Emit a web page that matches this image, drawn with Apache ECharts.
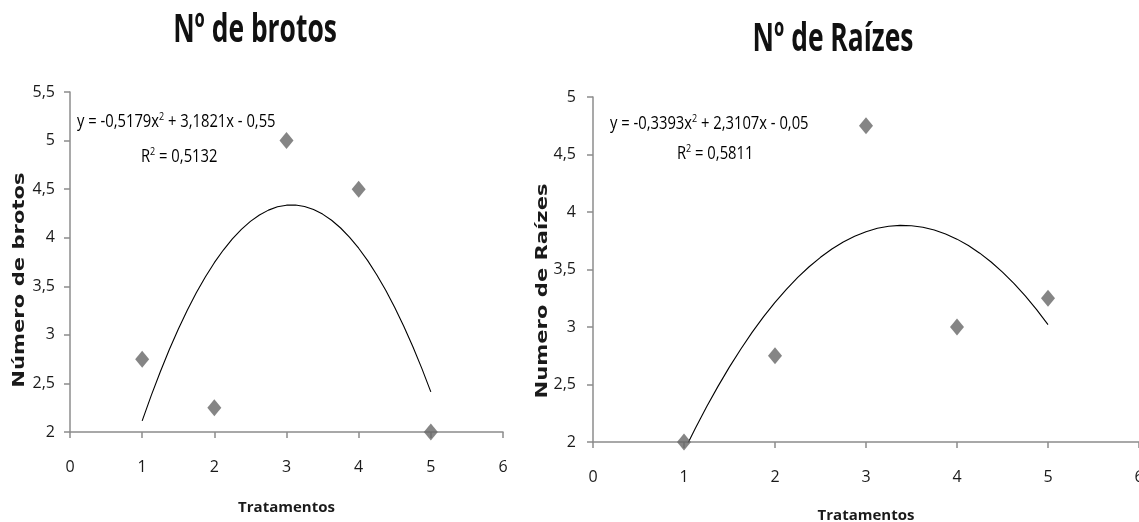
<!DOCTYPE html>
<html>
<head>
<meta charset="utf-8">
<script src="https://cdn.jsdelivr.net/npm/echarts@6/dist/echarts.min.js"></script>
<style>
html,body{margin:0;padding:0;background:#fff;}
#chart{width:1139px;height:522px;}
</style>
</head>
<body>
<div id="chart"></div>
<script>
// ---- data ----
var xTicks = [0, 1, 2, 3, 4, 5, 6];
var brotosX = [1, 2, 3, 4, 5];
var brotosY = [2.75, 2.25, 5, 4.5, 2];
var raizesX = [1, 2, 3, 4, 5];
var raizesY = [2, 2.75, 4.75, 3, 3.25];
// trendline points
var trendX = [1, 1.125, 1.25, 1.375, 1.5, 1.625, 1.75, 1.875, 2, 2.125, 2.25, 2.375, 2.5, 2.625, 2.75, 2.875, 3,
  3.125, 3.25, 3.375, 3.5, 3.625, 3.75, 3.875, 4, 4.125, 4.25, 4.375, 4.5, 4.625, 4.75, 4.875, 5];
var brotosTrendY = [2.114, 2.374, 2.618, 2.846, 3.058, 3.253, 3.433, 3.596, 3.743, 3.873, 3.988, 4.086, 4.168, 4.234, 4.284, 4.318, 4.335,
  4.336, 4.322, 4.290, 4.243, 4.180, 4.100, 4.004, 3.892, 3.764, 3.619, 3.459, 3.282, 3.089, 2.880, 2.655, 2.413];
var raizesTrendY = [1.921, 2.120, 2.308, 2.486, 2.653, 2.809, 2.955, 3.090, 3.214, 3.328, 3.431, 3.524, 3.606, 3.678, 3.739, 3.789, 3.828,
  3.858, 3.876, 3.884, 3.881, 3.868, 3.844, 3.809, 3.764, 3.708, 3.642, 3.565, 3.477, 3.379, 3.270, 3.151, 3.021];
var titles = ['Nº de brotos', 'Nº de Raízes'];
var yNames = ['Número de brotos', 'Numero de Raízes'];
var xName = 'Tratamentos';
var eqBrotos = ['y = -0,5179x', ' + 3,1821x - 0,55'];
var r2Brotos = '0,5132';
var eqRaizes = ['y = -0,3393x', ' + 2,3107x - 0,05'];
var r2Raizes = '0,5811';

function pairs(xs, ys) { return xs.map(function (x, i) { return [x, ys[i]]; }); }

var sans = '"Open Sans", "Noto Sans", sans-serif';
var axisColor = '#8c8c8c';
var labelColor = '#1a1a1a';

function xAxisCfg(gi, gap) {
  return {
    type: 'value', gridIndex: gi, min: 0, max: 6, interval: 1,
    name: xName, nameLocation: 'middle', nameGap: gap,
    nameTextStyle: { fontFamily: sans, fontWeight: 'bold', fontSize: 15, color: labelColor },
    axisLine: { show: true, lineStyle: { color: axisColor, width: 1.5 } },
    axisTick: { show: true, length: 6, lineStyle: { color: axisColor, width: 1.5 } },
    axisLabel: { margin: 27, fontFamily: sans, fontSize: 16, color: labelColor },
    splitLine: { show: false }
  };
}
function yAxisCfg(gi, min, max, margin) {
  return {
    type: 'value', gridIndex: gi, min: min, max: max, interval: 0.5,
    axisLine: { show: true, lineStyle: { color: axisColor, width: 1.5 } },
    axisTick: { show: true, length: 6, lineStyle: { color: axisColor, width: 1.5 } },
    axisLabel: { margin: margin, fontFamily: sans, fontSize: 16, color: labelColor,
      formatter: function (v) { return String(v).replace('.', ','); } },
    splitLine: { show: false }
  };
}

var chart = echarts.init(document.getElementById('chart'), null, { renderer: 'canvas' });
var supRich = {
  n: { fontFamily: sans, fontSize: 18, color: labelColor },
  s: { fontFamily: sans, fontSize: 11, color: labelColor, verticalAlign: 'top', padding: [0, 0, 10, 0] }
};
function titleText(txt, x, y) {
  return { type: 'text', x: x, y: y, scaleX: 0.66, scaleY: 1,
    style: { text: txt, align: 'center', verticalAlign: 'middle',
      font: 'bold 40px "Open Sans", "Noto Sans", sans-serif', fill: '#111' } };
}
function yNameText(txt, x, y) {
  return { type: 'text', x: x, y: y, rotation: Math.PI / 2, scaleX: 1.32, scaleY: 1,
    style: { text: txt, align: 'center', verticalAlign: 'middle',
      font: 'bold 16px "DejaVu Sans", Verdana, sans-serif', fill: labelColor } };
}
chart.setOption({
  animation: false,
  backgroundColor: '#ffffff',
  grid: [
    { left: 70, top: 92, width: 433, height: 340, outerBoundsMode: 'none', containLabel: false },
    { left: 593, top: 97, width: 546, height: 345, outerBoundsMode: 'none', containLabel: false }
  ],
  xAxis: [xAxisCfg(0, 68), xAxisCfg(1, 66)],
  yAxis: [yAxisCfg(0, 2, 5.5, 15), yAxisCfg(1, 2, 5, 17)],
  graphic: [
    titleText(titles[0], 255, 31),
    titleText(titles[1], 833, 40),
    yNameText(yNames[0], 20, 280),
    yNameText(yNames[1], 543, 291),
    { type: 'text', x: 77, y: 122, scaleX: 0.82,
      style: { text: '{n|' + eqBrotos[0] + '}{s|2}{n|' + eqBrotos[1] + '}', rich: supRich, verticalAlign: 'middle' } },
    { type: 'text', x: 141, y: 157, scaleX: 0.82,
      style: { text: '{n|R}{s|2}{n| = ' + r2Brotos + '}', rich: supRich, verticalAlign: 'middle' } },
    { type: 'text', x: 610, y: 124, scaleX: 0.82,
      style: { text: '{n|' + eqRaizes[0] + '}{s|2}{n|' + eqRaizes[1] + '}', rich: supRich, verticalAlign: 'middle' } },
    { type: 'text', x: 677, y: 154, scaleX: 0.82,
      style: { text: '{n|R}{s|2}{n| = ' + r2Raizes + '}', rich: supRich, verticalAlign: 'middle' } }
  ],
  series: [
    { type: 'line', xAxisIndex: 0, yAxisIndex: 0, data: pairs(trendX, brotosTrendY),
      smooth: false, showSymbol: false, symbol: 'none', clip: true,
      lineStyle: { color: '#000', width: 1.1 }, z: 2 },
    { type: 'scatter', xAxisIndex: 0, yAxisIndex: 0, data: pairs(brotosX, brotosY),
      symbol: 'diamond', symbolSize: [14, 17], itemStyle: { color: '#666666' }, clip: false, z: 3 },
    { type: 'line', xAxisIndex: 1, yAxisIndex: 1, data: pairs(trendX, raizesTrendY),
      smooth: false, showSymbol: false, symbol: 'none', clip: true,
      lineStyle: { color: '#000', width: 1.1 }, z: 2 },
    { type: 'scatter', xAxisIndex: 1, yAxisIndex: 1, data: pairs(raizesX, raizesY),
      symbol: 'diamond', symbolSize: [14, 17], itemStyle: { color: '#666666' }, clip: false, z: 3 }
  ]
});
</script>
</body>
</html>
